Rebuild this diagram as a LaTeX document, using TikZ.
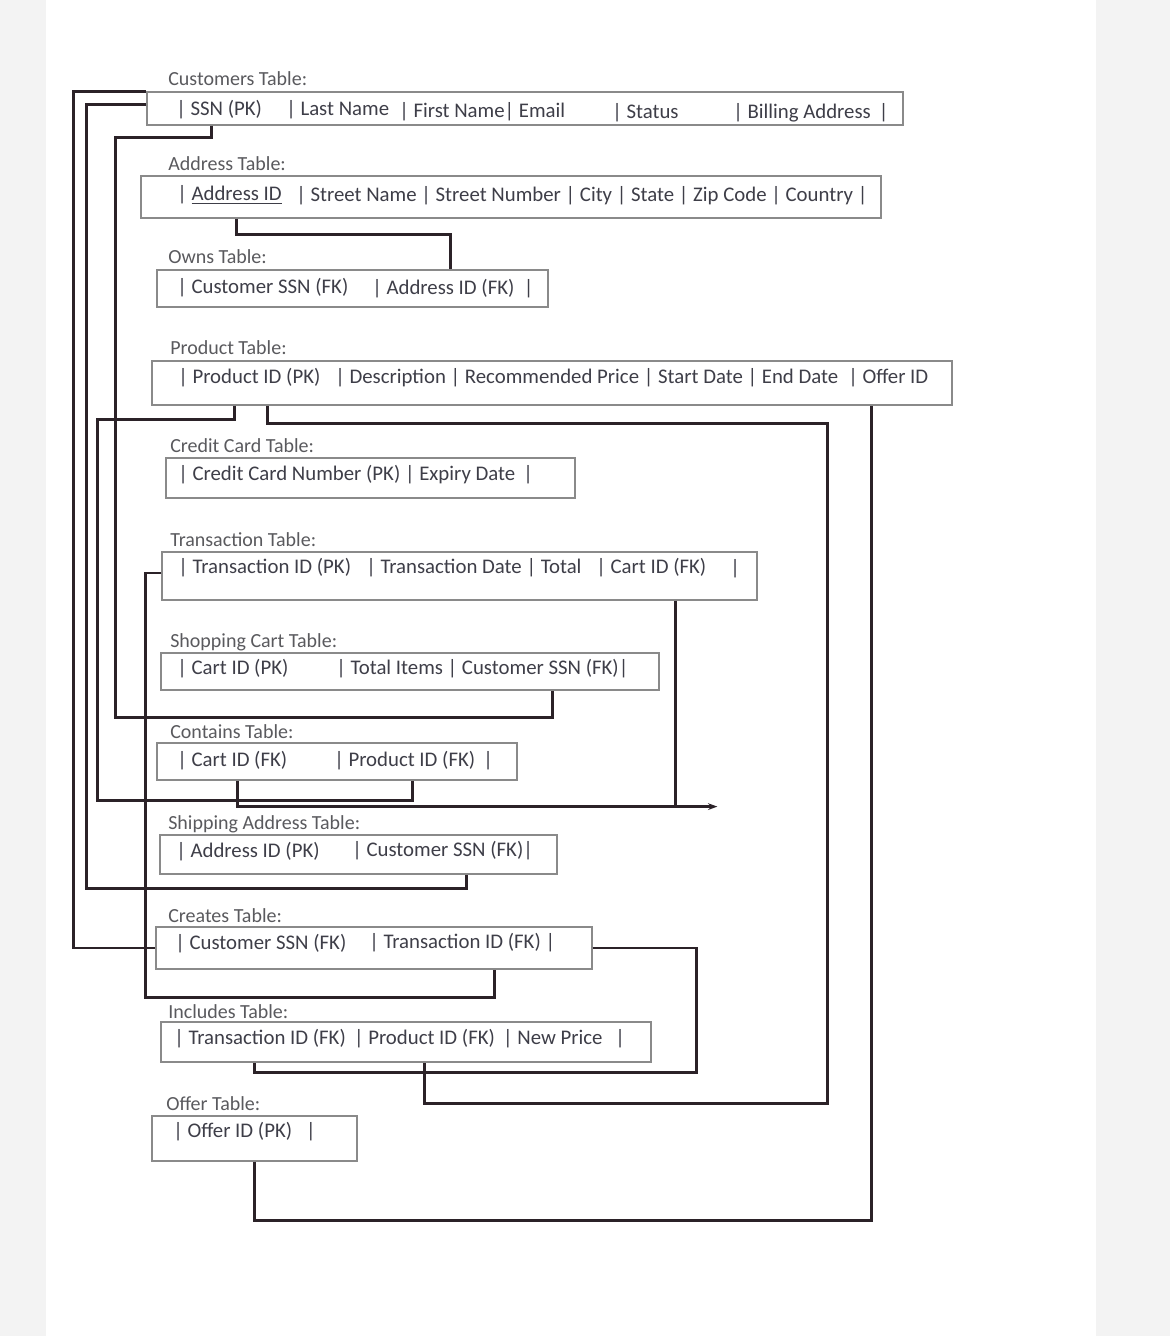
\documentclass[tikz,border=0pt]{standalone}
\usepackage{fontspec}
\setmainfont{Carlito}
\usetikzlibrary{calc,fit,arrows.meta}
\definecolor{ink}{HTML}{2B2228}
\definecolor{boxc}{HTML}{8A8A8A}
\definecolor{titlec}{HTML}{5A5A5E}
\definecolor{fieldc}{HTML}{3E3E48}
\definecolor{outside}{HTML}{F3F3F3}
\tikzset{
  tbox/.style={draw=boxc, line width=0.9pt, inner sep=0pt},
  ttl/.style={anchor=west, inner sep=0pt, yshift=-3pt, text=titlec, font=\fontsize{15}{17}\selectfont, text height=1.6ex, text depth=.4ex},
  fld/.style={anchor=west, inner sep=0pt, yshift=-3pt, xshift=-3pt, text=fieldc, font=\fontsize{15.6}{17}\selectfont, text height=1.6ex, text depth=.4ex},
  conn/.style={draw=ink, line width=1.8pt, line join=miter},
}
\begin{document}
\begin{tikzpicture}[x=0.75pt,y=-0.75pt]
\fill[outside] (0,0) rectangle (1170,1336);
\fill[white] (46,0) rectangle (1096,1336);
\useasboundingbox (0,0) rectangle (1170,1336);

% boxes
\node[tbox, fit={(147,92)(903,125)}] (cust) {};
\node[tbox, fit={(141,176)(881,218)}] (addr) {};
\node[tbox, fit={(157,270)(548,307)}] (owns) {};
\node[tbox, fit={(152,361)(952,405)}] (prod) {};
\node[tbox, fit={(166,458)(575,498)}] (cc) {};
\node[tbox, fit={(162,552)(757,600)}] (tran) {};
\node[tbox, fit={(161,653)(659,690)}] (cart) {};
\node[tbox, fit={(157,743)(517,780)}] (cont) {};
\node[tbox, fit={(160,835)(557,874)}] (ship) {};
\node[tbox, fit={(156,927)(592,969)}] (crea) {};
\node[tbox, fit={(161,1022)(651,1062)}] (incl) {};
\node[tbox, fit={(152,1116)(357,1161)}] (offer) {};

% titles
\node[ttl] (t1) at (168,78) {Customers Table:};
\node[ttl] (t2) at (168,163) {Address Table:};
\node[ttl] (t3) at (168,256) {Owns Table:};
\node[ttl] (t4) at (170,347) {Product Table:};
\node[ttl] (t5) at (170,445) {Credit Card Table:};
\node[ttl] (t6) at (170,539) {Transaction Table:};
\node[ttl] (t7) at (170,640) {Shopping Cart Table:};
\node[ttl] (t8) at (170,731) {Contains Table:};
\node[ttl] (t9) at (168,822) {Shipping Address Table:};
\node[ttl] (t10) at (168,915) {Creates Table:};
\node[ttl] (t11) at (168,1011) {Includes Table:};
\node[ttl] (t12) at (166,1103) {Offer Table:};

% fields
\node[fld] (f1a) at (180,108) {| SSN (PK)};
\node[fld] (f1b) at (290,108) {| Last Name};
\node[fld] (f1c) at (403,110) {| First Name| Email};
\node[fld] (f1d) at (616,111) {| Status};
\node[fld] (f1e) at (737,111) {| Billing Address \,|};
\node[fld] (f2a) at (181,193) {| \underline{Address ID}};
\node[fld] (f2b) at (300,194) {| Street Name | Street Number | City | State | Zip Code | Country |};
\node[fld] (f3a) at (181,286) {| Customer SSN (FK)};
\node[fld] (f3b) at (376,287) {| Address ID (FK) \ |};
\node[fld] (f4a) at (182,376) {| Product ID (PK)};
\node[fld] (f4b) at (339,376) {| Description | Recommended Price | Start Date | End Date};
\node[fld] (f4c) at (852,376) {| Offer ID};
\node[fld] (f5a) at (182,473) {| Credit Card Number (PK) | Expiry Date \,|};
\node[fld] (f6a) at (182,566) {| Transaction ID (PK)};
\node[fld] (f6b) at (370,566) {| Transaction Date | Total};
\node[fld] (f6c) at (600,566) {| Cart ID (FK)};
\node[fld] (f6d) at (734,567) {|};
\node[fld] (f7a) at (181,667) {| Cart ID (PK)};
\node[fld] (f7b) at (340,667) {| Total Items | Customer SSN (FK)|};
\node[fld] (f8a) at (181,759) {| Cart ID (FK)};
\node[fld] (f8b) at (338,759) {| Product ID (FK) \,|};
\node[fld] (f9a) at (180,850) {| Address ID (PK)};
\node[fld] (f9b) at (356,849) {| Customer SSN (FK)|};
\node[fld] (f10a) at (179,942) {| Customer SSN (FK)};
\node[fld] (f10b) at (373,941) {| Transaction ID (FK) |};
\node[fld] (f11a) at (178,1037) {| Transaction ID (FK) \,| Product ID (FK) \,| New Price \ \,|};
\node[fld] (f12a) at (177,1130) {| Offer ID (PK) \ \ |};

% connectors
\draw[conn] (cust.north west) -- ++(-73,0) |- (crea.west);
\coordinate (s1) at ($(ship.south west)+(307,0)$);
\draw[conn] ($(cust.west)+(0,-4)$) -- ++(-60,0) |- ($(s1)+(0,14)$) -- (s1);
\coordinate (c1) at ($(cust.south west)+(65,0)$);
\coordinate (c2) at ($(cart.south west)+(392,0)$);
\draw[conn] (c1) -- ++(0,12) -- ++(-96,0) |- ($(c2)+(0,27)$) -- (c2);
\coordinate (a1) at ($(addr.south west)+(96,0)$);
\draw[conn] (a1) -- ++(0,16) -| ($(owns.north west)+(294,0)$);
\coordinate (p1) at ($(prod.south west)+(83,0)$);
\coordinate (k1) at ($(cont.south west)+(256,0)$);
\draw[conn] (p1) -- ++(0,14) -- ++(-137,0) |- ($(k1)+(0,20)$) -- (k1);
\coordinate (p2) at ($(prod.south west)+(116,0)$);
\coordinate (i1) at ($(incl.south west)+(264,0)$);
\draw[conn] (p2) -- ++(0,18) -- ++(560,0) |- ($(i1)+(0,41)$) -- (i1);
\draw[conn] (offer.south) -- ++(0,59) -| ($(prod.south west)+(720,0)$);
\coordinate (r1) at ($(crea.south west)+(339,0)$);
\draw[conn] ($(tran.west)+(0,-3)$) -- ++(-16,0) |- ($(r1)+(0,28)$) -- (r1);
\coordinate (tb) at ($(tran.south west)+(514,0)$);
\draw[conn] (tb) -- ++(0,206) coordinate (tj);
\coordinate (kb) at ($(cont.south west)+(81,0)$);
\draw[conn, -{Stealth[length=7pt,width=5pt]}] (kb) -- ++(0,26) -- ++(480,0) coordinate (kend);
\coordinate (i2) at ($(incl.south west)+(94,0)$);
\draw[conn] (crea.east) -- ++(104,0) |- ($(i2)+(0,10)$) -- (i2);
\end{tikzpicture}
\end{document}
